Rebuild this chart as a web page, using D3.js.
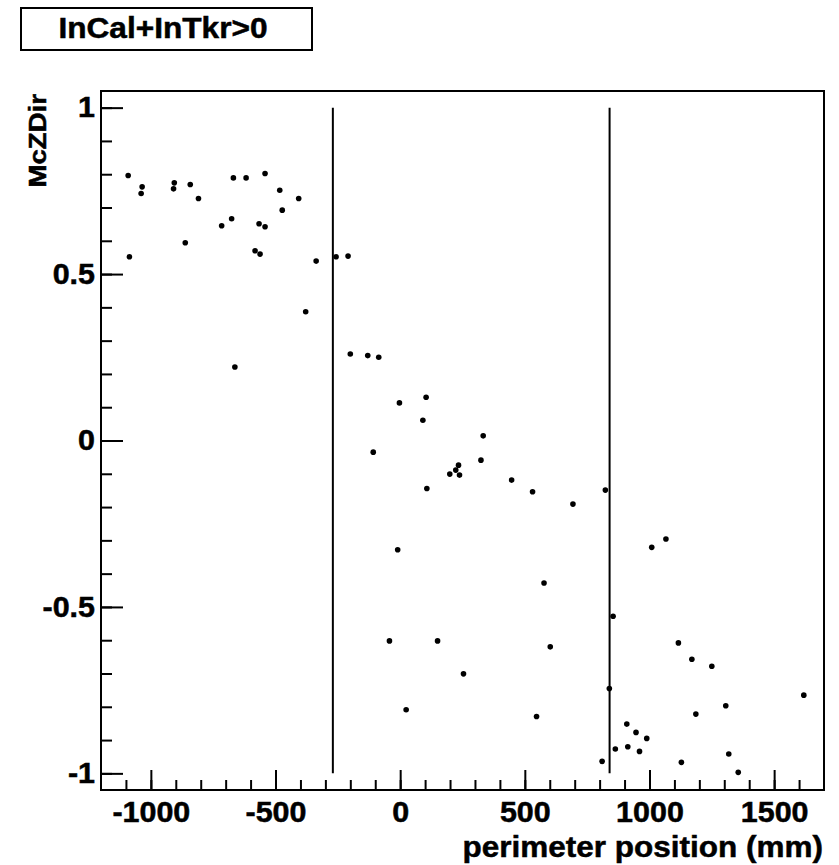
<!DOCTYPE html>
<html>
<head>
<meta charset="utf-8">
<script src="https://cdn.jsdelivr.net/npm/d3@7"></script>
<style>
  body { margin: 0; background: #fff; }
  text { font-family: "Liberation Sans", Arial, Helvetica, sans-serif; font-weight: bold; fill: #000; stroke: #000; stroke-width: 0.5px; }
</style>
</head>
<body>
<svg id="chart" width="839" height="865"></svg>
<script>
// perimeter position (mm)
const posX = [-1091, -1086, -1035, -1039, -906, -909, -842, -862, -809, -716,
  -676, -669, -663, -618, -542, -582, -562, -566, -542, -483,
  -473, -407, -337, -379, -257, -209, -200, -130, -86, -3,
  104, 91, -108, 333, 324, 234, 223, 199, 238, 107,
  447, 531, 693, 823, -10, 577, 854, -43, 150, 602,
  254, 24, 547, 1009, 1066, 1116, 1170, 1250, 839, 1619,
  1306, 1186, 909, 946, 989, 863, 913, 960, 810, 1128,
  1318, 1356];
// McZDir
const dirZ = [0.796, 0.552, 0.762, 0.742, 0.774, 0.756, 0.769, 0.594, 0.727, 0.645,
  0.666, 0.789, 0.221, 0.789, 0.802, 0.570, 0.560, 0.651, 0.642, 0.752,
  0.692, 0.727, 0.539, 0.387, 0.552, 0.554, 0.260, 0.255, 0.250, 0.113,
  0.130, 0.061, -0.035, 0.014, -0.059, -0.074, -0.089, -0.101, -0.104, -0.144,
  -0.119, -0.154, -0.191, -0.149, -0.328, -0.428, -0.528, -0.602, -0.602, -0.620,
  -0.701, -0.809, -0.829, -0.321, -0.296, -0.608, -0.657, -0.678, -0.745, -0.765,
  -0.797, -0.822, -0.852, -0.877, -0.895, -0.927, -0.920, -0.934, -0.964, -0.967,
  -0.942, -0.997];
// boundary lines
const cutX = [-270, 840];
const cutY = [-1, 1];

const xMajor = [-1000, -500, 0, 500, 1000, 1500];
const xMinor = d3.range(-1100, 1601, 100);
const yMajor = [-1, -0.5, 0, 0.5, 1];
const yMinor = d3.range(-10, 11).map(d => d / 10);

const titleText = "InCal+InTkr>0";
const xTitle = "perimeter position (mm)";
const yTitle = "McZDir";

const margin = {top: 91, right: 15, bottom: 75, left: 101};
const width = 839 - margin.left - margin.right;
const height = 865 - margin.top - margin.bottom;

const svg = d3.select("#chart");

const xScale = d3.scaleLinear().domain([-1200, 1700]).range([0, width]);
const yScale = d3.scaleLinear().domain([-1.05, 1.05]).range([height, 0]);

const chart = svg.append("g")
  .attr("transform", `translate(${margin.left},${margin.top})`);

// plain hyphen for negatives, like the original
const fmt = d => String(d);

// stretch text a bit wider, like the original renderer
function widen(sel, f) {
  sel.each(function () {
    const len = this.getComputedTextLength();
    d3.select(this).attr("textLength", len * f).attr("lengthAdjust", "spacingAndGlyphs");
  });
}

// minor ticks
chart.append("g")
  .attr("transform", `translate(0,${height})`)
  .call(d3.axisBottom(xScale).tickValues(xMinor).tickSize(-10).tickFormat(""))
  .call(g => g.select(".domain").remove());
chart.append("g")
  .call(d3.axisLeft(yScale).tickValues(yMinor).tickSize(-11).tickFormat(""))
  .call(g => g.select(".domain").remove());

// major ticks with labels
const xAxisG = chart.append("g")
  .attr("transform", `translate(0,${height})`)
  .call(d3.axisBottom(xScale).tickValues(xMajor).tickSize(-20).tickPadding(11).tickFormat(fmt))
  .call(g => g.select(".domain").remove());
const yAxisG = chart.append("g")
  .call(d3.axisLeft(yScale).tickValues(yMajor).tickSize(-22).tickPadding(6).tickFormat(fmt))
  .call(g => g.select(".domain").remove());

chart.selectAll(".tick line").attr("stroke", "#000").attr("stroke-width", 2);
chart.selectAll(".tick text").attr("font-size", 29).attr("font-family", null);
widen(chart.selectAll(".tick text"), 1.05);

// frame
chart.append("rect")
  .attr("width", width).attr("height", height)
  .attr("fill", "none").attr("stroke", "#000").attr("stroke-width", 2);

// vertical cut lines
chart.selectAll(".cut")
  .data(cutX)
  .join("line")
  .attr("class", "cut")
  .attr("x1", d => xScale(d)).attr("x2", d => xScale(d))
  .attr("y1", yScale(cutY[0])).attr("y2", yScale(cutY[1]))
  .attr("stroke", "#000").attr("stroke-width", 2);

// points
chart.selectAll(".pt")
  .data(posX.map((x, i) => ({x: x, y: dirZ[i]})))
  .join("circle")
  .attr("class", "pt")
  .attr("cx", d => xScale(d.x))
  .attr("cy", d => yScale(d.y))
  .attr("r", 2.8)
  .attr("fill", "#000");

// axis titles
const xt = svg.append("text")
  .attr("x", margin.left + width - 1)
  .attr("y", 857)
  .attr("text-anchor", "end")
  .attr("font-size", 30)
  .text(xTitle);
widen(xt, 1.05);

const yt = svg.append("text")
  .attr("transform", `translate(46,${margin.top + 3}) rotate(-90)`)
  .attr("text-anchor", "end")
  .attr("font-size", 23)
  .text(yTitle);
widen(yt, 1.2);

// title box
svg.append("rect")
  .attr("x", 21).attr("y", 8)
  .attr("width", 291).attr("height", 42)
  .attr("fill", "#fff").attr("stroke", "#000").attr("stroke-width", 2);
const tt = svg.append("text")
  .attr("x", 163)
  .attr("y", 38)
  .attr("text-anchor", "middle")
  .attr("font-size", 29)
  .text(titleText);
widen(tt, 1.09);
</script>
</body>
</html>
